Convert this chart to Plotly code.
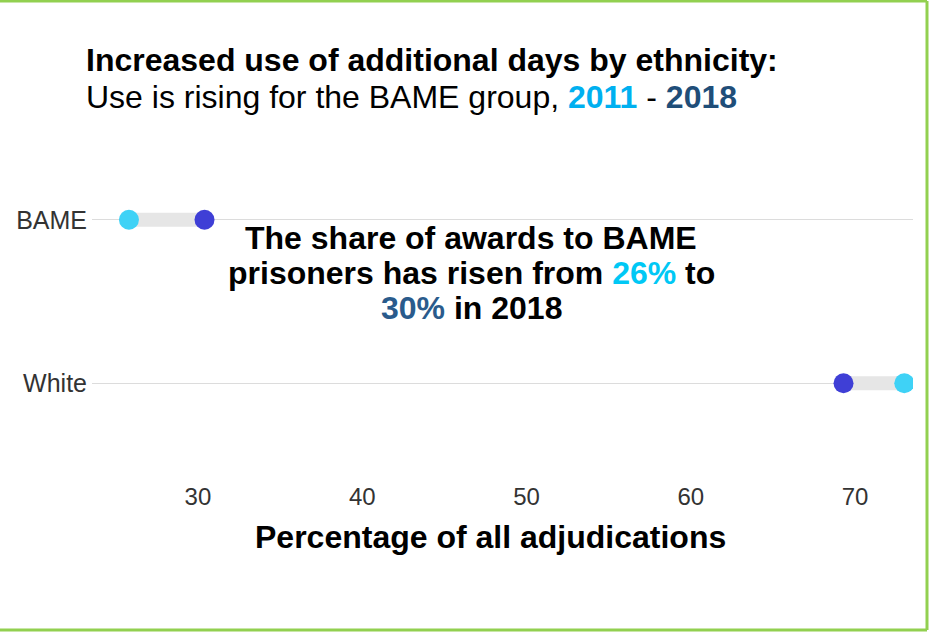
import plotly.graph_objects as go

# ---- data ----
categories = ["BAME", "White"]
share_2011 = [25.8, 73.0]
share_2018 = [30.4, 69.3]
x_ticks = [30, 40, 50, 60, 70]
y_pos = [1, 0]

W, H = 929, 634
ML, MR, MT, MB = 92, 16, 138, 169
PW, PH = W - ML - MR, H - MT - MB

def px(x):
    return (x - ML) / PW

def py(y):
    return (H - MB - y) / PH

C_2011 = "#3fd2f6"
C_2018 = "#3f3fd6"
FONT = "Liberation Sans, Arial, sans-serif"

fig = go.Figure()

for i, cat in enumerate(categories):
    fig.add_trace(go.Scatter(
        x=[share_2011[i], share_2018[i]], y=[y_pos[i], y_pos[i]],
        mode="lines", line=dict(color="#e6e6e6", width=14),
        showlegend=False, hoverinfo="skip"))

fig.add_trace(go.Scatter(x=share_2011, y=y_pos, mode="markers", name="2011",
                         marker=dict(color=C_2011, size=20), showlegend=False))
fig.add_trace(go.Scatter(x=share_2018, y=y_pos, mode="markers", name="2018",
                         marker=dict(color=C_2018, size=20), showlegend=False))

ann = []
ann.append(dict(text="<b>Increased use of additional days by ethnicity:</b>",
                x=px(84), y=py(60), xanchor="left", yanchor="middle"))
ann.append(dict(text="Use is rising for the BAME group, <b><span style='color:#00b0f0'>2011</span></b> - <b><span style='color:#1f4e79'>2018</span></b>",
                x=px(84), y=py(97), xanchor="left", yanchor="middle"))
ann.append(dict(text="<b>The share of awards to BAME</b>",
                x=px(471), y=py(238), xanchor="center", yanchor="middle"))
ann.append(dict(text="<b>prisoners has risen from <span style='color:#00c8f5'>26%</span> to</b>",
                x=px(471), y=py(273), xanchor="center", yanchor="middle"))
ann.append(dict(text="<b><span style='color:#2a5b8c'>30%</span> in 2018</b>",
                x=px(471), y=py(308), xanchor="center", yanchor="middle"))
ann.append(dict(text="<b>Percentage of all adjudications</b>",
                x=px(490), y=py(537), xanchor="center", yanchor="middle"))
for a in ann:
    a.update(xref="paper", yref="paper", showarrow=False,
             font=dict(family=FONT, size=32, color="#000000"))
fig.update_layout(annotations=ann)

# green frame: top, right, bottom edges
border = dict(color="#92d050", width=3)
for (xa, ya, xb, yb) in [(0, 1, 927, 1), (927, 1, 927, 630), (0, 630, 927, 630)]:
    fig.add_shape(type="line", xref="paper", yref="paper",
                  x0=px(xa), y0=py(ya), x1=px(xb), y1=py(yb), line=border, layer="above")

fig.update_layout(
    width=W, height=H,
    margin=dict(l=ML, r=MR, t=MT, b=MB),
    paper_bgcolor="white", plot_bgcolor="white",
    xaxis=dict(range=[23.55, 73.53], tickvals=x_ticks, showgrid=False, zeroline=False,
               showline=False, ticks="", ticklabelstandoff=15,
               tickfont=dict(family=FONT, size=24, color="#333333")),
    yaxis=dict(range=[-0.5, 1.5], tickvals=y_pos, ticktext=categories, showgrid=True,
               gridcolor="#dcdcdc", gridwidth=1, zeroline=False, showline=False, ticks="",
               ticklabelstandoff=4,
               tickfont=dict(family=FONT, size=25, color="#333333")),
)

fig.write_html("out.html", config={"displayModeBar": False},
               post_script="document.body.style.margin='0';document.body.style.overflow='hidden';")
